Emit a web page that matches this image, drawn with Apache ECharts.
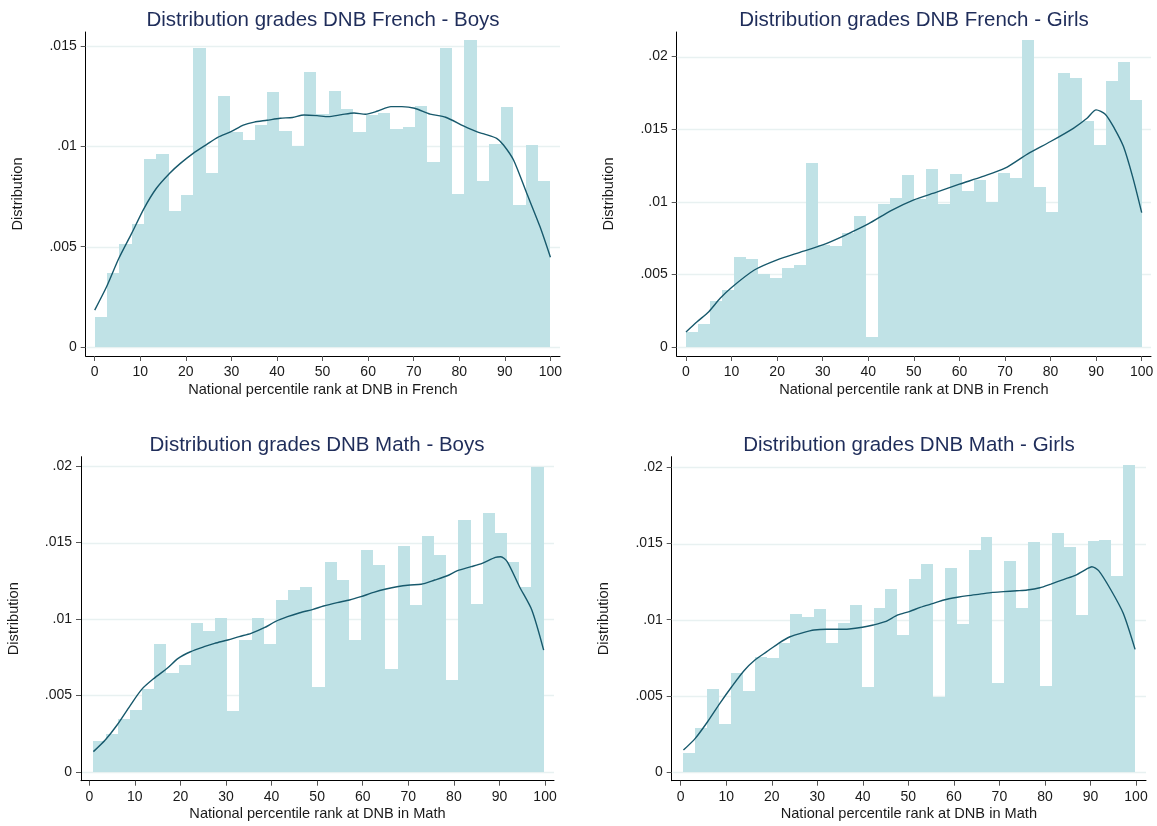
<!DOCTYPE html>
<html>
<head>
<meta charset="utf-8">
<script src="https://cdn.jsdelivr.net/npm/echarts@6/dist/echarts.min.js"></script>
<style>
html,body{margin:0;padding:0;background:#fff;}
#chart{width:1157px;height:826px;}
</style>
</head>
<body>
<div id="chart"></div>
<script>
// ---------- DATA ----------
const titles = [
  'Distribution grades DNB French - Boys',
  'Distribution grades DNB French - Girls',
  'Distribution grades DNB Math - Boys',
  'Distribution grades DNB Math - Girls'
];
const xNames = [
  'National percentile rank at DNB in French',
  'National percentile rank at DNB in French',
  'National percentile rank at DNB in Math',
  'National percentile rank at DNB in Math'
];
const yName = 'Distribution';
const xTicks = [0,10,20,30,40,50,60,70,80,90,100];
const yTicksA = [0, 0.005, 0.01, 0.015];
const yTicksB = [0, 0.005, 0.01, 0.015, 0.02];

// histogram bin ranges [first edge, last edge]
const frBoysRange = [0, 100];
const frGirlsRange = [0, 100];
const mathBoysRange = [0.9, 99.7];
const mathGirlsRange = [0.6, 99.8];

// histogram heights (equal-width bins)
const frBoysBins = [0.00151,0.00370,0.00513,0.00615,0.00937,0.00962,0.00679,0.00757,0.0149,0.00867,
  0.01251,0.01071,0.01033,0.01105,0.01271,0.01078,0.01003,0.01369,0.01159,0.01277,
  0.01188,0.01071,0.01156,0.01168,0.01085,0.01098,0.01201,0.00924,0.0149,0.00764,
  0.0153,0.00827,0.01013,0.01194,0.00706,0.01007,0.00827];
const frGirlsBins = [0.00103,0.00158,0.00317,0.00393,0.00618,0.00606,0.00501,0.00478,0.00546,0.00565,
  0.01265,0.00703,0.00698,0.00783,0.00905,0.00069,0.00983,0.01029,0.01183,0.01017,
  0.01224,0.00983,0.01189,0.01077,0.0115,0.01001,0.01201,0.01166,0.02115,0.01105,
  0.00932,0.01885,0.01851,0.01559,0.01389,0.01832,0.01961,0.01701];
const mathBoysBins = [0.00203,0.00246,0.00344,0.00403,0.0054,0.00839,0.00649,0.00702,0.00974,0.00924,
  0.01007,0.00397,0.00865,0.01007,0.00839,0.01124,0.0119,0.01209,0.00553,0.01373,
  0.01255,0.00865,0.01451,0.01353,0.00671,0.01477,0.01094,0.01542,0.01418,0.00599,
  0.01647,0.011,0.01693,0.01562,0.01373,0.01209,0.01993];
const mathGirlsBins = [0.00127,0.00289,0.00545,0.00315,0.0065,0.00534,0.00755,0.0075,0.00845,0.01037,
  0.0102,0.01068,0.00849,0.00978,0.01096,0.0056,0.01079,0.01204,0.00902,0.01269,
  0.01365,0.00495,0.01337,0.00974,0.01455,0.01543,0.00582,0.01383,0.01074,0.01508,
  0.00565,0.01567,0.01477,0.01033,0.01519,0.01525,0.01289,0.02013];

// kernel density curves
const frBoysKx = [0,2.6,5.3,8.1,10.8,13.5,16.4,18.8,21.6,24.6,27,29.9,32.6,35,37.8,40.7,43.4,45.9,48.8,51.2,
  54.2,56.9,59.4,62.1,65,67.4,70.2,73.6,77,80.9,83.8,85.7,88.2,89.7,91.9,94.8,97.7,100];
const frBoysKy = [0.00184,0.0030,0.00442,0.00566,0.0069,0.0079,0.00865,0.00915,0.00965,0.0101,
  0.01045,0.01073,0.01106,0.01121,0.0113,0.0114,0.01144,0.01156,0.01153,0.01148,
  0.01158,0.01166,0.0116,0.01176,0.01198,0.01198,0.0119,0.01161,0.01145,0.01102,
  0.01073,0.0106,0.0104,0.01007,0.00932,0.00766,0.006,0.00447];
const frGirlsKx = [0,2.5,5,7.5,10,15,20,25,30,35,40,45,50,55,60,65,70,75,80,85,88,90,92,94,96,98,100];
const frGirlsKy = [0.00103,0.00175,0.00243,0.00335,0.0041,0.0053,0.006,0.00652,0.00703,0.00771,
  0.00847,0.00939,0.01013,0.01066,0.01121,0.01173,0.01231,0.0133,0.01415,0.01506,
  0.01575,0.01633,0.01603,0.01506,0.0138,0.01173,0.00925];
const mathBoysKx = [0.9,3.5,6.1,8.9,11.5,14.2,17.1,19.5,22.2,25.2,27.5,30.4,32.9,35.5,38.4,40.8,43.5,46.2,49.1,51.4,
  54.4,57.1,59.6,62.4,65.1,67.5,70.4,72.8,75.8,78.4,80.8,83.8,86.2,89.1,90.3,91.7,94.4,97.1,99.7];
const mathBoysKy = [0.00133,0.00209,0.00307,0.00431,0.0054,0.00612,0.00678,0.00743,0.00786,0.00819,
  0.00841,0.00863,0.00885,0.00906,0.00943,0.00983,0.01015,0.01041,0.01063,0.01085,
  0.01107,0.01124,0.01146,0.01174,0.01196,0.01211,0.01222,0.01227,0.01255,0.01281,
  0.01316,0.01342,0.01364,0.01403,0.01407,0.01375,0.01211,0.01059,0.00797];
const mathGirlsKx = [0.6,3.2,5.9,8.6,11.2,13.9,16.3,18.9,21.5,24,26.9,29.3,32.1,34.4,37,39.9,42.3,44.9,47.7,50.2,
  52.6,55.5,57.8,60.8,63.1,65.7,68.5,70.9,73.8,76.1,78.9,81.3,84.2,86.8,89.2,90.3,91.8,94.5,97.2,99.8];
const mathGirlsKy = [0.00144,0.00221,0.0033,0.00451,0.0056,0.00665,0.00735,0.0079,0.00845,0.00888,
  0.00915,0.00932,0.00937,0.00937,0.00939,0.0095,0.00965,0.00987,0.01031,0.01053,
  0.01081,0.01107,0.01129,0.01147,0.01158,0.01168,0.01179,0.01184,0.0119,0.01195,
  0.0121,0.01234,0.01265,0.01293,0.01333,0.01348,0.01322,0.01195,0.01042,0.00805];

// ---------- STYLE / LAYOUT ----------
const FONT = 'Liberation Sans, Arial, Helvetica, sans-serif';
const BAR = '#c0e2e6';
const LINE = '#17596c';
const GRIDC = '#e8f1f1';
const TITLEC = '#1f2d5a';
const TEXTC = '#1a1a1a';

const panels = [
  {grid:{left:85.7, top:32, width:474.3, height:324}, xr:[-1.98,102.1], yr:[-0.00045,0.0157], yt:yTicksA,
   bins:frBoysBins, range:frBoysRange, kx:frBoysKx, ky:frBoysKy, tx:318, ty:5},
  {grid:{left:676.7, top:32, width:474.3, height:324}, xr:[-2.04,102.04], yr:[-0.00062,0.02169], yt:yTicksB,
   bins:frGirlsBins, range:frGirlsRange, kx:frGirlsKx, ky:frGirlsKy, tx:909, ty:5},
  {grid:{left:81, top:456.7, width:473, height:324}, xr:[-1.82,101.97], yr:[-0.00057,0.02061], yt:yTicksB,
   bins:mathBoysBins, range:mathBoysRange, kx:mathBoysKx, ky:mathBoysKy, tx:312, ty:430},
  {grid:{left:671.7, top:456.7, width:474.3, height:324}, xr:[-1.98,102.2], yr:[-0.00057,0.0207], yt:yTicksB,
   bins:mathGirlsBins, range:mathGirlsRange, kx:mathGirlsKx, ky:mathGirlsKy, tx:904, ty:430}
];

function fmtY(v){ if (Math.abs(v) < 1e-12) return '0'; return String(+v.toFixed(4)).replace(/^0\./,'.'); }

const option = {
  backgroundColor:'#ffffff',
  animation:false,
  title:[], grid:[], xAxis:[], yAxis:[], series:[]
};

panels.forEach((p,i)=>{
  option.title.push({
    text:titles[i], left:p.tx, top:p.ty, textAlign:'center',
    textStyle:{fontFamily:FONT, fontSize:20.5, fontWeight:'normal', color:TITLEC}
  });
  option.grid.push(Object.assign({containLabel:false}, p.grid));
  option.xAxis.push({
    type:'value', gridIndex:i, min:p.xr[0], max:p.xr[1],
    name:xNames[i], nameLocation:'middle', nameGap:26,
    nameTextStyle:{fontFamily:FONT, fontSize:14.6, color:TEXTC},
    axisLine:{show:true, onZero:false, lineStyle:{color:'#000', width:1}},
    axisTick:{show:true, length:5, customValues:xTicks, lineStyle:{color:'#555'}},
    axisLabel:{customValues:xTicks, margin:9, fontFamily:FONT, fontSize:14, color:TEXTC},
    splitLine:{show:false}
  });
  option.yAxis.push({
    type:'value', gridIndex:i, min:p.yr[0], max:p.yr[1],
    name:yName, nameLocation:'middle', nameGap:60,
    nameTextStyle:{fontFamily:FONT, fontSize:14.6, color:TEXTC},
    axisLine:{show:true, onZero:false, lineStyle:{color:'#000', width:1}},
    axisTick:{show:true, length:5, customValues:p.yt, lineStyle:{color:'#555'}},
    axisLabel:{customValues:p.yt, margin:9, fontFamily:FONT, fontSize:14, color:TEXTC, formatter:fmtY},
    splitLine:{show:false}
  });
  // horizontal gridlines (behind bars)
  option.series.push({
    type:'custom', xAxisIndex:i, yAxisIndex:i, z:1, silent:true,
    encode:{y:0},
    data:p.yt.map(v=>[v]),
    renderItem:function(params, api){
      const y = Math.round(api.coord([p.xr[0], api.value(0)])[1]) + 0.5;
      const cs = params.coordSys;
      return {type:'line', shape:{x1:cs.x + 1, y1:y, x2:cs.x + cs.width, y2:y},
        style:{stroke:GRIDC, lineWidth:1.3}};
    }
  });
  // histogram bars
  const n = p.bins.length;
  const w = (p.range[1]-p.range[0])/n;
  const barData = p.bins.map((h,k)=>[p.range[0]+k*w, p.range[0]+(k+1)*w, h]);
  option.series.push({
    type:'custom', xAxisIndex:i, yAxisIndex:i, z:2, silent:true,
    encode:{x:[0,1], y:2},
    data:barData,
    renderItem:function(params, api){
      const a = api.coord([api.value(0), api.value(2)]);
      const b = api.coord([api.value(1), 0]);
      const x0 = Math.round(a[0]), x1 = Math.round(b[0]);
      const y0 = Math.round(a[1]), y1 = Math.round(b[1]);
      return {type:'rect', shape:{x:x0, y:y0, width:x1-x0, height:y1-y0},
        style:{fill:BAR, stroke:null}};
    }
  });
  // kernel density
  option.series.push({
    type:'line', xAxisIndex:i, yAxisIndex:i, z:3, silent:true,
    data:p.kx.map((x,k)=>[x, p.ky[k]]),
    smooth:0.25, showSymbol:false, symbol:'none',
    lineStyle:{color:LINE, width:1.4}
  });
});

const chart = echarts.init(document.getElementById('chart'), null, {renderer:'canvas'});
chart.setOption(option);
</script>
</body>
</html>
